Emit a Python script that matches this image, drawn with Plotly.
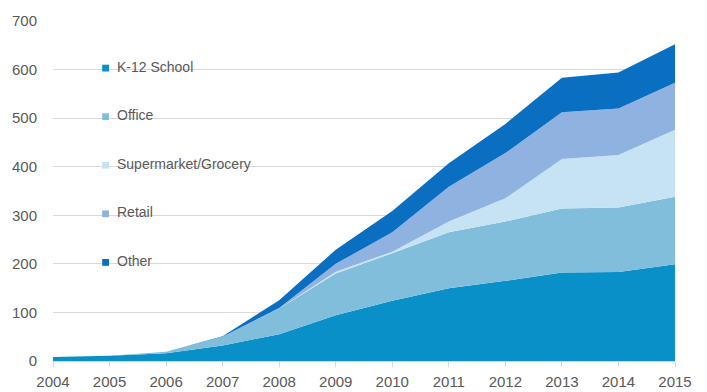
import plotly.graph_objects as go

years = list(range(2004, 2016))

k12_school = [8, 11, 16, 32, 55, 94, 124, 150, 165, 182, 183, 199]
office = [0, 0, 3, 18, 53, 86, 98, 115, 122, 132, 133, 139]
supermarket_grocery = [0, 0, 0, 0, 0, 4, 3, 22, 48, 102, 108, 138]
retail = [0, 0, 0, 0, 1, 16, 40, 72, 93, 96, 96, 97]
other = [0, 0, 0, 1, 16, 29, 44, 48, 60, 71, 74, 79]

series_names = ["K-12 School", "Office", "Supermarket/Grocery", "Retail", "Other"]
series_values = [k12_school, office, supermarket_grocery, retail, other]
series_colors = ["#0990c8", "#80bedc", "#c6e3f3", "#8fb2e0", "#0b6fc1"]

y_ticks = [0, 100, 200, 300, 400, 500, 600, 700]

FONT = "Liberation Sans, Arial, sans-serif"
TEXT_GREY = "#595959"

fig = go.Figure()
for name, vals, col in zip(series_names, series_values, series_colors):
    fig.add_trace(go.Scatter(
        x=years, y=vals, name=name, stackgroup="one", mode="lines",
        line=dict(width=0, color=col), fillcolor=col, showlegend=False,
    ))

# Legend drawn as a column of coloured squares with labels, one per gridline
legend_y = [600, 500, 400, 300, 200]
for name, col, ly in zip(series_names, series_colors, legend_y):
    fig.add_shape(type="rect", xref="x", yref="y",
                  x0=2004.87, x1=2004.99, y0=ly - 4, y1=ly + 10,
                  fillcolor=col, line=dict(width=0))
    fig.add_annotation(x=2005.1, y=ly + 6, xref="x", yref="y", text=name,
                       showarrow=False, xanchor="left", yanchor="middle",
                       font=dict(family=FONT, size=14, color=TEXT_GREY))

fig.update_layout(
    width=707, height=392,
    margin=dict(l=53, r=32, t=21, b=31),
    paper_bgcolor="white", plot_bgcolor="white",
    font=dict(family=FONT, size=14, color=TEXT_GREY),
    xaxis=dict(
        range=[2004, 2015], tickmode="array", tickvals=years,
        ticktext=[str(y) for y in years], showgrid=False,
        showline=True, linecolor="#d9d9d9", linewidth=1,
        ticks="outside", ticklen=5, tickcolor="#d9d9d9",
        ticklabelstandoff=2, automargin=False,
        tickfont=dict(family=FONT, size=15, color=TEXT_GREY), zeroline=False,
    ),
    yaxis=dict(
        range=[0, 700], tickmode="array", tickvals=y_ticks,
        showgrid=True, gridcolor="#d9d9d9", gridwidth=1,
        zeroline=False, showline=False, ticks="", ticklabelstandoff=15,
        automargin=False,
        tickfont=dict(family=FONT, size=15, color=TEXT_GREY),
    ),
)

fig.write_html("out.html")
